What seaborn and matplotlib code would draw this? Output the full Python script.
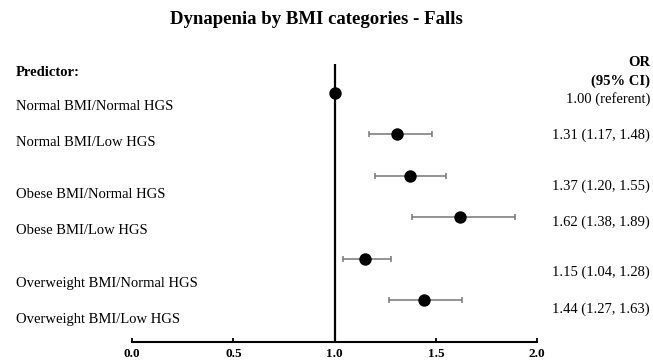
import matplotlib
matplotlib.use("Agg")
import matplotlib.pyplot as plt
import seaborn as sns
import pandas as pd

predictors = ["Normal BMI/Normal HGS", "Normal BMI/Low HGS", "Obese BMI/Normal HGS",
              "Obese BMI/Low HGS", "Overweight BMI/Normal HGS", "Overweight BMI/Low HGS"]
odds_ratio = [1.00, 1.31, 1.37, 1.62, 1.15, 1.44]
ci_low = [1.00, 1.17, 1.20, 1.38, 1.04, 1.27]
ci_high = [1.00, 1.48, 1.55, 1.89, 1.28, 1.63]
or_labels = ["1.00 (referent)", "1.31 (1.17, 1.48)", "1.37 (1.20, 1.55)",
             "1.62 (1.38, 1.89)", "1.15 (1.04, 1.28)", "1.44 (1.27, 1.63)"]
x_ticks = [0.0, 0.5, 1.0, 1.5, 2.0]
x_tick_labels = ["0.0", "0.5", "1.0", "1.5", "2.0"]

# pixel positions of the text rows (layout)
left_label_y = [106, 142, 194, 231, 283, 320]
right_label_y = [99, 135, 186, 222, 272, 309]

sns.set_theme(style="white")
plt.rcParams["font.family"] = ["Liberation Serif", "DejaVu Serif"]
plt.rcParams["text.color"] = "black"
plt.rcParams["xtick.color"] = "black"

W, H = 653, 362
fig = plt.figure(figsize=(W / 100, H / 100), dpi=100)
ax_left, ax_right = 132.3 / W, 537 / W
ax_bottom, ax_top = 1 - 342 / H, 1 - 64 / H
ax = fig.add_axes([ax_left, ax_bottom, ax_right - ax_left, ax_top - ax_bottom])

df = pd.DataFrame({"row": range(len(predictors)), "OR": odds_ratio,
                   "lo": ci_low, "hi": ci_high})
has_ci = df["hi"] > df["lo"]
sub = df[has_ci]
ax.errorbar(sub["OR"], sub["row"], xerr=[sub["OR"] - sub["lo"], sub["hi"] - sub["OR"]],
            fmt="none", ecolor="#777777", elinewidth=1.1, capsize=2.3, capthick=1.1, zorder=2)
ax.axvline(1.0, color="black", lw=1.6, zorder=1)
sns.scatterplot(data=df, x="OR", y="row", ax=ax, color="black", s=80,
                edgecolor="black", linewidth=0, zorder=3, legend=False)

ax.set_xlim(0, 2)
ax.set_ylim(6.0, -0.69)
ax.set_xticks(x_ticks)
ax.set_xticklabels(x_tick_labels, fontweight="bold", fontsize=9.5, color="black")
ax.set_yticks([])
ax.set_xlabel("")
ax.set_ylabel("")
for s in ["top", "right", "left"]:
    ax.spines[s].set_visible(False)
ax.spines["bottom"].set_color("black")
ax.spines["bottom"].set_linewidth(1.5)
ax.tick_params(axis="x", direction="in", length=3, width=1.3, color="black", pad=4,
               bottom=True)
ax.patch.set_alpha(0)

fig.text(316 / W, 1 - 20 / H, "Dynapenia by BMI categories - Falls", ha="center", va="center",
         fontsize=13.5, fontweight="bold", color="black")
fig.text(16 / W, 1 - 72 / H, "Predictor:", ha="left", va="center", fontsize=10.5,
         fontweight="bold", color="black")
for lab, y in zip(predictors, left_label_y):
    fig.text(16 / W, 1 - y / H, lab, ha="left", va="center", fontsize=10.5, color="black")
fig.text(650 / W, 1 - 63 / H, "OR", ha="right", va="center", fontsize=10.5,
         fontweight="bold", color="black")
fig.text(650 / W, 1 - 81 / H, "(95% CI)", ha="right", va="center", fontsize=10.5,
         fontweight="bold", color="black")
for lab, y in zip(or_labels, right_label_y):
    fig.text(650 / W, 1 - y / H, lab, ha="right", va="center", fontsize=10.5, color="black")

fig.savefig("out.png", dpi=100)
